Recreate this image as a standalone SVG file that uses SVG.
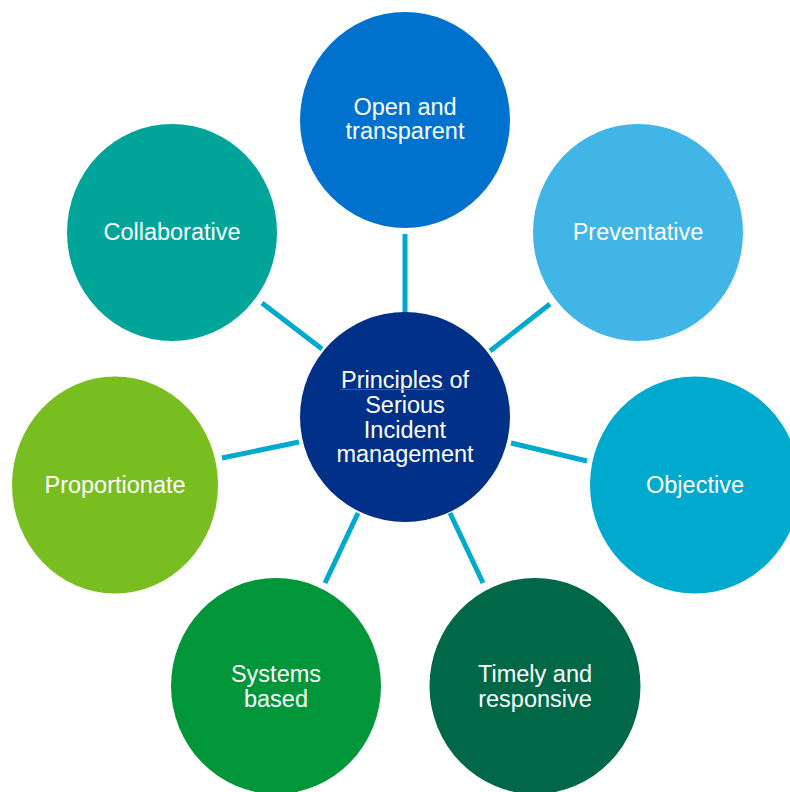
<svg xmlns="http://www.w3.org/2000/svg" width="790" height="792" viewBox="0 0 790 792">
  <style>
    .lbl { font-family: "Liberation Sans", Arial, sans-serif; font-size: 23.5px; fill: #ffffff; text-anchor: middle; }
    .spoke { stroke: #00A9CE; stroke-width: 5; stroke-linecap: butt; fill: none; }
  </style>
  <rect width="790" height="792" fill="#ffffff"/>

  <!-- spokes from the hub to each principle -->
  <g id="connectors">
    <line class="spoke" x1="405" y1="234" x2="405" y2="313"/>
    <line class="spoke" x1="490" y1="351" x2="550" y2="304"/>
    <line class="spoke" x1="511" y1="443" x2="587" y2="461"/>
    <line class="spoke" x1="450" y1="513" x2="483" y2="583"/>
    <line class="spoke" x1="358" y1="513" x2="325" y2="583"/>
    <line class="spoke" x1="299" y1="442" x2="222" y2="458"/>
    <line class="spoke" x1="322" y1="349" x2="262" y2="303"/>
  </g>

  <g id="hub">
    <circle cx="405" cy="417" r="105" fill="#003087"/>
    <text class="lbl"><tspan x="405" y="388">Principles of</tspan><tspan x="405" y="413">Serious</tspan><tspan x="405" y="438">Incident</tspan><tspan x="405" y="462">management</tspan></text>
    <line x1="340" y1="389.5" x2="444" y2="389.5" stroke="#C0504D" stroke-width="1" opacity="0.7"/>
  </g>

  <g id="open-transparent">
    <ellipse cx="405" cy="120" rx="105" ry="108" fill="#0072CE"/>
    <text class="lbl"><tspan x="405" y="115">Open and</tspan><tspan x="405" y="139">transparent</tspan></text>
  </g>

  <g id="preventative">
    <ellipse cx="638" cy="232.5" rx="105" ry="108.5" fill="#41B6E6"/>
    <text class="lbl" x="638" y="240">Preventative</text>
  </g>

  <g id="objective">
    <ellipse cx="695" cy="485" rx="105" ry="108.5" fill="#00A9CE"/>
    <text class="lbl" x="695" y="493">Objective</text>
  </g>

  <g id="timely-responsive">
    <ellipse cx="535" cy="686" rx="105.5" ry="108" fill="#006747"/>
    <text class="lbl"><tspan x="535" y="682">Timely and</tspan><tspan x="535" y="707">responsive</tspan></text>
  </g>

  <g id="systems-based">
    <ellipse cx="276" cy="686" rx="105" ry="108" fill="#009639"/>
    <text class="lbl"><tspan x="276" y="682">Systems</tspan><tspan x="276" y="707">based</tspan></text>
  </g>

  <g id="proportionate">
    <ellipse cx="115" cy="485" rx="103" ry="108.5" fill="#78BE20"/>
    <text class="lbl" x="115" y="493">Proportionate</text>
  </g>

  <g id="collaborative">
    <ellipse cx="172" cy="232.5" rx="105" ry="108.5" fill="#00A499"/>
    <text class="lbl" x="172" y="240">Collaborative</text>
  </g>
</svg>
